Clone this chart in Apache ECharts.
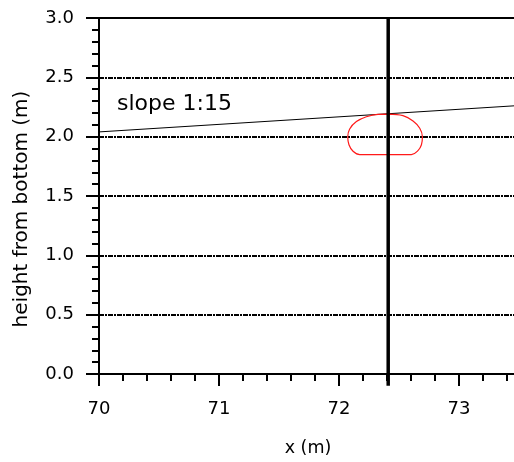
<!DOCTYPE html>
<html>
<head>
<meta charset="utf-8">
<script src="https://cdn.jsdelivr.net/npm/echarts@6/dist/echarts.min.js"></script>
<style>
html,body{margin:0;padding:0;background:#fff;overflow:hidden;width:514px;height:462px;}
#chart{width:600px;height:462px;}
</style>
</head>
<body>
<div id="chart"></div>
<script>
// Data
const xTickValues = [70, 71, 72, 73];
const yTickValues = [0.0, 0.5, 1.0, 1.5, 2.0, 2.5, 3.0];
const wallX = [72.41, 72.41];
const wallY = [3.0, -0.1];
const slopeX = [70, 73.46];
const slopeY = [2.04, 2.26];
const blobX = [72.417, 72.533, 72.617, 72.673, 72.695, 72.687, 72.658, 72.603, 72.39, 72.173, 72.117, 72.083, 72.073, 72.089, 72.145, 72.228, 72.325, 72.417];
const blobY = [2.19, 2.177, 2.132, 2.071, 2.0, 1.932, 1.882, 1.848, 1.848, 1.848, 1.877, 1.932, 2.0, 2.065, 2.127, 2.168, 2.188, 2.19];
const slopeLabel = 'slope 1:15';

const zip = (a, b) => a.map((v, i) => [v, b[i]]);
const FONT = 'DejaVu Sans';

const chart = echarts.init(document.getElementById('chart'), null, {renderer: 'canvas'});
chart.setOption({
  animation: false,
  backgroundColor: '#fff',
  grid: {
    left: 99, top: 18, right: 21, bottom: 84,
    show: true, borderColor: '#000', borderWidth: 2, backgroundColor: 'transparent'
  },
  xAxis: {
    type: 'value', min: 70, max: 74, interval: 1,
    name: 'x (m)', nameLocation: 'middle', nameGap: 65,
    nameTextStyle: {fontFamily: FONT, fontSize: 17.5, color: '#000', padding: [0, 62, 0, 0]},
    axisLine: {show: true, lineStyle: {color: '#000', width: 2}},
    axisTick: {show: true, length: 12, lineStyle: {color: '#000', width: 2}},
    minorTick: {show: true, splitNumber: 5, length: 7, lineStyle: {color: '#000', width: 2}},
    splitLine: {show: false},
    axisLabel: {
      fontFamily: FONT, fontSize: 18, color: '#000', margin: 26,
      formatter: v => xTickValues.includes(v) ? String(v) : ''
    }
  },
  yAxis: {
    type: 'value', min: 0, max: 3, interval: 0.5,
    name: 'height from bottom (m)', nameLocation: 'middle', nameGap: 67,
    nameTextStyle: {fontFamily: FONT, fontSize: 20, color: '#000', padding: [0, 26, 0, 0]},
    axisLine: {show: true, lineStyle: {color: '#000', width: 2}},
    axisTick: {show: true, length: 13, lineStyle: {color: '#000', width: 2}},
    minorTick: {show: true, splitNumber: 5, length: 7, lineStyle: {color: '#000', width: 2}},
    splitLine: {show: true, lineStyle: {color: '#000', width: 2, type: [5, 1, 2, 1]}},
    axisLabel: {
      fontFamily: FONT, fontSize: 18, color: '#000', margin: 25,
      formatter: v => yTickValues.includes(v) ? v.toFixed(1) : ''
    }
  },
  graphic: [{
    type: 'text', left: 117, top: 93,
    style: {text: slopeLabel, font: '22px "DejaVu Sans"', fill: '#000'}
  }],
  series: [
    {
      type: 'line', data: zip(slopeX, slopeY), showSymbol: false, symbol: 'none',
      lineStyle: {color: '#000', width: 1}, z: 3
    },
    {
      type: 'line', data: zip(blobX, blobY), showSymbol: false, symbol: 'none',
      smooth: 0.4, lineStyle: {color: '#ff1a1a', width: 1.2}, z: 4
    },
    {
      type: 'line', data: zip(wallX, wallY), showSymbol: false, symbol: 'none', clip: false,
      lineStyle: {color: '#000', width: 3.5}, z: 5
    }
  ]
});
</script>
</body>
</html>
